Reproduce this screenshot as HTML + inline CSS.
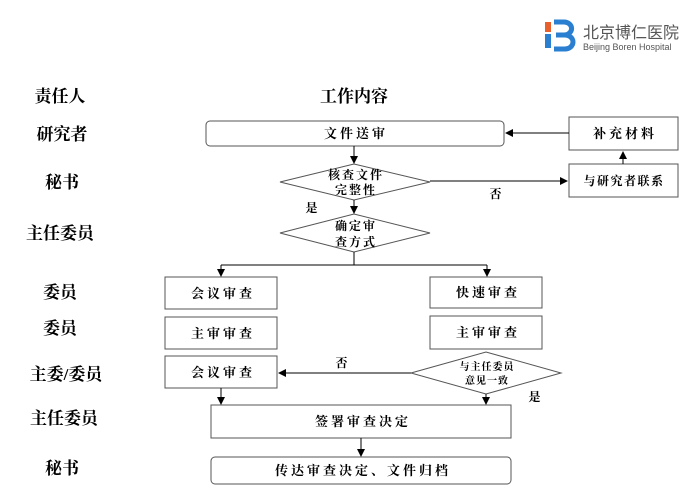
<!DOCTYPE html>
<html><head><meta charset="utf-8"><style>
html,body{margin:0;padding:0;background:#fff;}
svg{display:block;}
text{font-family:"Liberation Serif","Noto Serif CJK SC",serif;font-weight:bold;fill:#000;}
.sm{font-size:12px;}
.lb{font-size:17px;}
</style></head><body>
<svg width="700" height="491" viewBox="0 0 700 491" xmlns="http://www.w3.org/2000/svg">
<defs><marker id="a" markerWidth="8" markerHeight="8" refX="7" refY="4" orient="auto" markerUnits="userSpaceOnUse"><path d="M0,0 L8,4 L0,8 z" fill="#000"/></marker></defs>
<rect x="545" y="22" width="6" height="10" fill="#e8612c"/>
<rect x="545" y="34" width="6" height="14" fill="#2a7fd0"/>
<path d="M554,22 h10 a7,6 0 0 1 0,13 h-4 M556,35 h9 a8,7 0 0 1 0,14 h-11" fill="none" stroke="#2a7fd0" stroke-width="5"/>
<text x="583" y="38" style="font-family:'Liberation Sans','Noto Sans CJK SC',sans-serif;font-weight:normal;font-size:16px;fill:#555">北京博仁医院</text>
<text x="583" y="50" style="font-family:'Liberation Sans',sans-serif;font-weight:normal;font-size:9px;fill:#555">Beijing Boren Hospital</text>
<g class="lb" text-anchor="middle">
<text x="60" y="102">责任人</text>
<text x="62" y="140">研究者</text>
<text x="62" y="188">秘书</text>
<text x="60" y="239">主任委员</text>
<text x="60" y="298">委员</text>
<text x="60" y="334">委员</text>
<text x="66" y="380">主委/委员</text>
<text x="64" y="424">主任委员</text>
<text x="62" y="474">秘书</text>
<text x="354" y="102">工作内容</text>
</g>
<g fill="#fff" stroke="#555" stroke-width="1">
<rect x="206" y="121" width="298" height="25" rx="4"/>
<rect x="569" y="117" width="109" height="33"/>
<rect x="569" y="164" width="109" height="33"/>
<polygon points="280,182 354,164 430,182 354,200"/>
<polygon points="280,233 354,214 430,233 354,252"/>
<rect x="165" y="277" width="112" height="32"/>
<rect x="430" y="277" width="112" height="31"/>
<rect x="165" y="317" width="112" height="32"/>
<rect x="430" y="316" width="112" height="33"/>
<rect x="165" y="356" width="112" height="32"/>
<polygon points="411,373 486,352 561,373 486,394"/>
<rect x="211" y="405" width="300" height="33"/>
<rect x="211" y="457" width="300" height="27" rx="4"/>
</g>
<g stroke="#000" stroke-width="1" fill="none">
<line x1="569" y1="133" x2="506" y2="133" marker-end="url(#a)"/>
<line x1="623" y1="164" x2="623" y2="152" marker-end="url(#a)"/>
<line x1="430" y1="181" x2="567" y2="181" marker-end="url(#a)"/>
<line x1="354" y1="146" x2="354" y2="163" marker-end="url(#a)"/>
<line x1="354" y1="200" x2="354" y2="213" marker-end="url(#a)"/>
<polyline points="354,252 354,265"/>
<line x1="221" y1="265" x2="487" y2="265"/>
<line x1="221" y1="265" x2="221" y2="276" marker-end="url(#a)"/>
<line x1="487" y1="265" x2="487" y2="276" marker-end="url(#a)"/>
<line x1="411" y1="373" x2="279" y2="373" marker-end="url(#a)"/>
<line x1="221" y1="388" x2="221" y2="404" marker-end="url(#a)"/>
<line x1="486" y1="394" x2="486" y2="404" marker-end="url(#a)"/>
<line x1="361" y1="438" x2="361" y2="456" marker-end="url(#a)"/>
</g>
<g text-anchor="middle" style="font-size:13px;letter-spacing:3px">
<text x="356" y="138">文件送审</text>
<text x="625" y="138">补充材料</text>
<text x="624" y="185" class="sm" style="letter-spacing:1.5px">与研究者联系</text>
<text x="356" y="179" class="sm" style="letter-spacing:2px">核查文件</text>
<text x="356" y="194" class="sm" style="letter-spacing:2px">完整性</text>
<text x="356" y="230" class="sm" style="letter-spacing:2px">确定审</text>
<text x="356" y="246" class="sm" style="letter-spacing:2px">查方式</text>
<text x="497" y="198" class="sm">否</text>
<text x="313" y="212" class="sm">是</text>
<text x="223" y="298">会议审查</text>
<text x="488" y="297">快速审查</text>
<text x="223" y="338">主审审查</text>
<text x="488" y="337">主审审查</text>
<text x="223" y="377">会议审查</text>
<text x="343" y="367" class="sm">否</text>
<text x="487" y="370" style="font-size:10px;letter-spacing:1px">与主任委员</text>
<text x="487" y="384" style="font-size:10px;letter-spacing:1px">意见一致</text>
<text x="536" y="401" class="sm">是</text>
<text x="363" y="426">签署审查决定</text>
<text x="363" y="475">传达审查决定、文件归档</text>
</g>
</svg>
</body></html>
